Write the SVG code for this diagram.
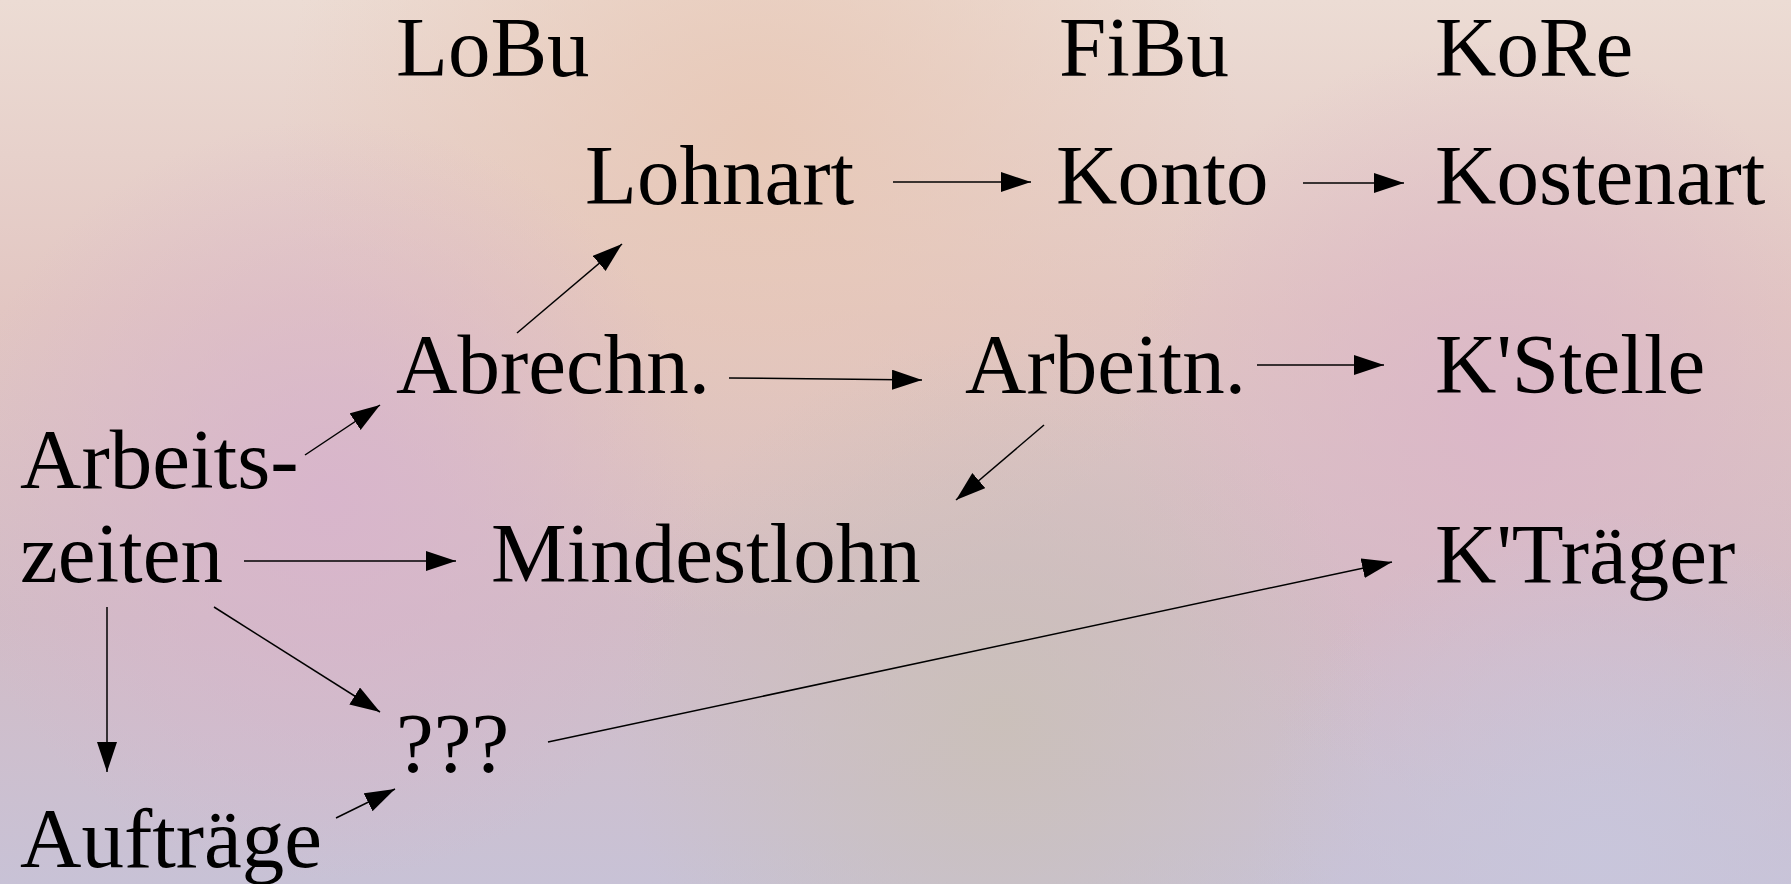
<svg xmlns="http://www.w3.org/2000/svg" width="1791" height="884" viewBox="0 0 1791 884">
<defs>
<linearGradient id="bg" x1="0" y1="0" x2="0" y2="1">
<stop offset="0" stop-color="#ecdcd4"/>
<stop offset="0.35" stop-color="#e2c6c2"/>
<stop offset="0.7" stop-color="#d2bcc6"/>
<stop offset="1" stop-color="#c8c2d6"/>
</linearGradient>
<radialGradient id="pk1" cx="330" cy="500" r="380" gradientUnits="userSpaceOnUse">
<stop offset="0" stop-color="#d8b4cc" stop-opacity="0.9"/>
<stop offset="1" stop-color="#d8b4cc" stop-opacity="0"/>
</radialGradient>
<radialGradient id="pk2" cx="1500" cy="420" r="380" gradientUnits="userSpaceOnUse">
<stop offset="0" stop-color="#dbb6c8" stop-opacity="0.9"/>
<stop offset="1" stop-color="#dbb6c8" stop-opacity="0"/>
</radialGradient>
<radialGradient id="pe" cx="760" cy="140" r="480" gradientUnits="userSpaceOnUse">
<stop offset="0" stop-color="#e8c8b6" stop-opacity="0.9"/>
<stop offset="1" stop-color="#e8c8b6" stop-opacity="0"/>
</radialGradient>
<radialGradient id="gr" cx="1000" cy="720" r="380" gradientUnits="userSpaceOnUse">
<stop offset="0" stop-color="#cac0b8" stop-opacity="0.9"/>
<stop offset="1" stop-color="#cac0b8" stop-opacity="0"/>
</radialGradient>
<radialGradient id="lv" cx="1600" cy="860" r="350" gradientUnits="userSpaceOnUse">
<stop offset="0" stop-color="#c8c6dc" stop-opacity="0.9"/>
<stop offset="1" stop-color="#c8c6dc" stop-opacity="0"/>
</radialGradient>
<marker id="ah" markerUnits="userSpaceOnUse" markerWidth="32" markerHeight="22" refX="30" refY="10" orient="auto">
<path d="M0,0 L30,10 L0,20 Z" fill="#000"/>
</marker>
<style>
.t{font-family:'Liberation Serif','Times New Roman',serif;font-size:85px;fill:#000}
.c line{stroke:#000;stroke-width:1.5;marker-end:url(#ah)}
</style>
</defs>
<rect width="1791" height="884" fill="url(#bg)"/>
<rect width="1791" height="884" fill="url(#pe)"/>
<rect width="1791" height="884" fill="url(#pk1)"/>
<rect width="1791" height="884" fill="url(#pk2)"/>
<rect width="1791" height="884" fill="url(#gr)"/>
<rect width="1791" height="884" fill="url(#lv)"/>
<g class="t">
<g id="h-lobu"><text x="396" y="76">LoBu</text></g>
<g id="h-fibu"><text x="1059" y="76">FiBu</text></g>
<g id="h-kore"><text x="1435" y="76">KoRe</text></g>
<g id="n-lohnart"><text x="585" y="204">Lohnart</text></g>
<g id="n-konto"><text x="1056" y="204">Konto</text></g>
<g id="n-kostenart"><text x="1435" y="204">Kostenart</text></g>
<g id="n-abrechn"><text x="396" y="393">Abrechn.</text></g>
<g id="n-arbeitn"><text x="965" y="393">Arbeitn.</text></g>
<g id="n-kstelle"><text x="1435" y="393">K'Stelle</text></g>
<g id="n-arbeitszeiten"><text x="20" y="488">Arbeits-</text><text x="20" y="582">zeiten</text></g>
<g id="n-mindestlohn"><text x="491" y="582">Mindestlohn</text></g>
<g id="n-ktraeger"><text x="1435" y="583">K'Träger</text></g>
<g id="n-qqq"><text x="396" y="772">???</text></g>
<g id="n-auftraege"><text x="20" y="867">Aufträge</text></g>
</g>
<g id="connectors" class="c">
<line x1="517" y1="333" x2="622" y2="244"/>
<line x1="893" y1="182" x2="1031" y2="182"/>
<line x1="1303" y1="183" x2="1404" y2="183"/>
<line x1="729" y1="378" x2="922" y2="380"/>
<line x1="1257" y1="365" x2="1384" y2="365"/>
<line x1="1044" y1="425" x2="956" y2="500"/>
<line x1="305" y1="455" x2="380" y2="405"/>
<line x1="244" y1="561" x2="456" y2="561"/>
<line x1="107" y1="607" x2="107" y2="772"/>
<line x1="214" y1="607" x2="380" y2="712"/>
<line x1="336" y1="818" x2="395" y2="789"/>
<line x1="548" y1="742" x2="1392" y2="562"/>
</g>
</svg>
